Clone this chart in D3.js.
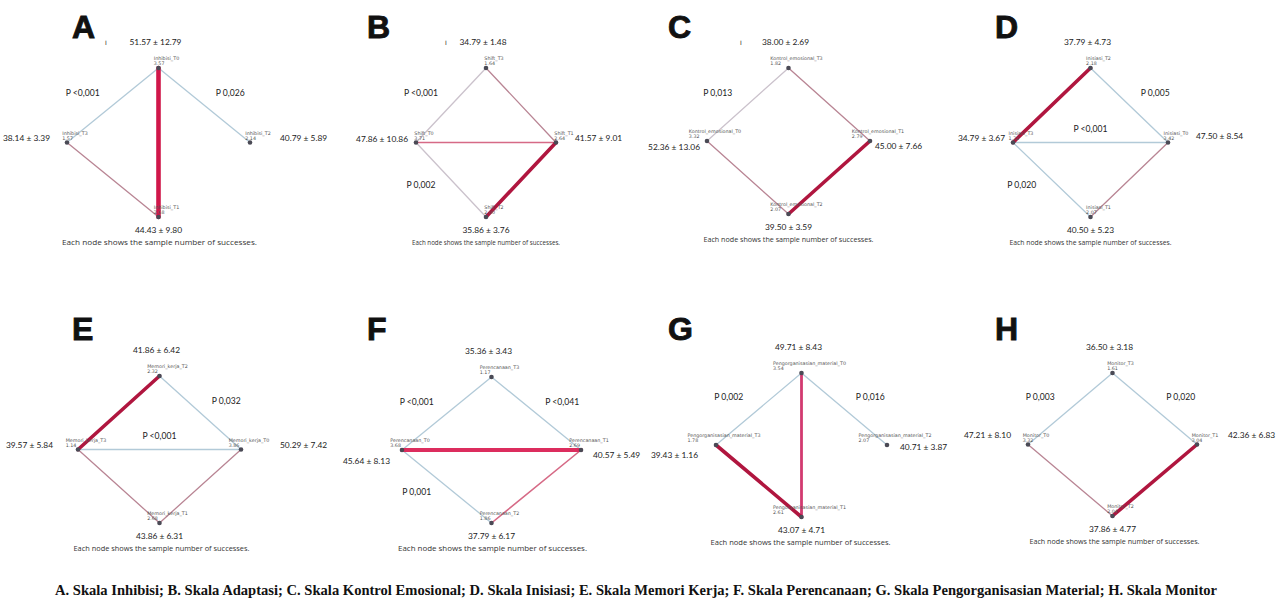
<!DOCTYPE html>
<html>
<head>
<meta charset="utf-8">
<script src="https://cdn.jsdelivr.net/npm/d3@7"></script>
<style>
body { margin: 0; background: #fff; }
</style>
</head>
<body>
<script>
var w = 1282;
var h = 600;

// panel ids and scale names
var panelIds = ["A", "B", "C", "D", "E", "F", "G", "H"];
var scaleNames = ["Inhibisi", "Shift", "Kontrol_emosional", "Inisiasi",
  "Memori_kerja", "Perencanaan", "Pengorganisasian_material", "Monitor"];
var captionNames = ["Skala Inhibisi", "Skala Adaptasi", "Skala Kontrol Emosional", "Skala Inisiasi",
  "Skala Memori Kerja", "Skala Perencanaan", "Skala Pengorganisasian Material", "Skala Monitor"];

// node time points, in order [top, left, right, bottom]
var nodeTimes = [
  ["T0", "T3", "T2", "T1"],
  ["T3", "T0", "T1", "T2"],
  ["T3", "T0", "T1", "T2"],
  ["T2", "T3", "T0", "T1"],
  ["T2", "T3", "T0", "T1"],
  ["T3", "T0", "T1", "T2"],
  ["T0", "T3", "T2", "T1"],
  ["T3", "T0", "T1", "T2"]
];
// sample number of successes shown under each node name
var nodeScores = [
  [3.57, 1.57, 2.14, 2.68],
  [1.64, 3.71, 2.64, 2.00],
  [1.82, 3.32, 2.79, 2.07],
  [2.18, 1.32, 3.42, 2.07],
  [2.32, 1.14, 3.86, 2.68],
  [1.17, 3.68, 2.69, 1.86],
  [3.54, 1.78, 2.07, 2.61],
  [1.61, 3.32, 3.04, 2.04]
];
// mean and sd per node
var nodeMeans = [
  [51.57, 38.14, 40.79, 44.43],
  [34.79, 47.86, 41.57, 35.86],
  [38.00, 52.36, 45.00, 39.50],
  [37.79, 34.79, 47.50, 40.50],
  [41.86, 39.57, 50.29, 43.86],
  [35.36, 45.64, 40.57, 37.79],
  [49.71, 39.43, 40.71, 43.07],
  [36.50, 47.21, 42.36, 37.86]
];
var nodeSds = [
  [12.79, 3.39, 5.89, 9.80],
  [1.48, 10.86, 9.01, 3.76],
  [2.69, 13.06, 7.66, 3.59],
  [4.73, 3.67, 8.54, 5.23],
  [6.42, 5.84, 7.42, 6.31],
  [3.43, 8.13, 5.49, 6.17],
  [8.43, 1.16, 3.87, 4.71],
  [3.18, 8.10, 6.83, 4.77]
];

// comparisons: [from, to, kind]
var edges = [
  [["T0","T3","blue"], ["T0","T2","blue"], ["T3","T1","pink"], ["T0","T1","thick"]],
  [["T3","T0","grey"], ["T3","T1","pink"], ["T0","T2","grey"], ["T0","T1","red"], ["T1","T2","dark"]],
  [["T3","T0","grey"], ["T3","T1","pink"], ["T0","T2","pink"], ["T1","T2","dark"]],
  [["T2","T0","blue"], ["T3","T0","blue"], ["T3","T1","blue"], ["T0","T1","pink"], ["T3","T2","dark"]],
  [["T2","T0","blue"], ["T3","T0","blue"], ["T3","T1","pink"], ["T0","T1","pink"], ["T3","T2","dark"]],
  [["T3","T0","blue"], ["T3","T1","blue"], ["T0","T2","blue"], ["T1","T2","red"], ["T0","T1","bright"]],
  [["T0","T3","blue"], ["T0","T2","blue"], ["T0","T1","rose"], ["T3","T1","dark"]],
  [["T3","T0","blue"], ["T3","T1","blue"], ["T0","T2","pink"], ["T1","T2","dark"]]
];

// p values written next to comparisons: [from, to, text]
var pLabels = [
  [["T0","T3","P <0,001"], ["T0","T2","P 0,026"]],
  [["T3","T0","P <0,001"], ["T0","T2","P 0,002"]],
  [["T3","T0","P 0,013"]],
  [["T2","T0","P 0,005"], ["T3","T0","P <0,001"], ["T3","T1","P 0,020"]],
  [["T2","T0","P 0,032"], ["T3","T0","P <0,001"]],
  [["T3","T0","P <0,001"], ["T3","T1","P <0,041"], ["T0","T2","P 0,001"]],
  [["T0","T3","P 0,002"], ["T0","T2","P 0,016"]],
  [["T3","T0","P 0,003"], ["T3","T1","P 0,020"]]
];

// layout of each diamond
var boxes = [
  {xl: 67, xr: 250, yt: 68, yb: 217},
  {xl: 416, xr: 556, yt: 68, yb: 217},
  {xl: 707, xr: 870, yt: 68, yb: 214},
  {xl: 1013, xr: 1168, yt: 68, yb: 217},
  {xl: 78, xr: 241, yt: 376, yb: 523},
  {xl: 402, xr: 581, yt: 377, yb: 523},
  {xl: 716, xr: 887, yt: 373, yb: 517},
  {xl: 1028, xr: 1197, yt: 373, yb: 516}
];
var letterX = [72, 367, 668, 995];
var letterY = [38, 340];
// side label offsets: [left dx, left dy, right dx, right dy]
var sideOff = [
  [-17, -2, 30, -2],
  [-8, -1, 19, -2],
  [-7, 9, 5, 8],
  [-8, -2, 28, -4],
  [-25, -2, 39, -2],
  [-12, 14, 12, 8],
  [-18, 13, 13, 5],
  [-17, -7, 31, -7]
];
// footnote width and x shift per panel
var footW = [195, 148, 170, 162, 176, 189, 180, 170];
var footDx = [1, 0, 0, 0, 2, 1, -1, 2];
var cursorMarks = [[105, 45], [445, 45], [740, 45]];

var edgeColor = d3.scaleOrdinal()
  .domain(["blue", "grey", "pink", "red", "dark", "thick", "bright", "rose"])
  .range(["#b2cad8", "#cbc2cc", "#b98594", "#d66a86", "#b0163f", "#d0174a", "#dc2d5e", "#d23a70"]);
var edgeWidth = d3.scaleOrdinal()
  .domain(["blue", "grey", "pink", "red", "dark", "thick", "bright", "rose"])
  .range([1.3, 1.3, 1.3, 1.6, 3.6, 4.6, 4, 2.8]);
var edgeOrder = d3.scaleOrdinal()
  .domain(["blue", "grey", "pink", "red", "dark", "thick", "bright", "rose"])
  .range([0, 0, 1, 1, 2, 2, 2, 2]);

var fmt = d3.format(".2f");
var valueFont = "Lato, 'Liberation Sans', sans-serif";

//Create SVG element
var svg = d3.select("body")
            .append("svg")
            .attr("width", w)
            .attr("height", h)
            .style("background", "#fff");

var slots = [["center", "top"], ["left", "middle"], ["right", "middle"], ["center", "bottom"]];

panelIds.forEach(function(id, i) {
  var b = boxes[i];
  var x = d3.scalePoint().domain(["left", "center", "right"]).range([b.xl, b.xr]);
  var y = d3.scalePoint().domain(["top", "middle", "bottom"]).range([b.yt, b.yb]);

  var nodes = nodeTimes[i].map(function(t, k) {
    return {
      t: t,
      k: k,
      name: scaleNames[i] + "_" + t,
      score: nodeScores[i][k],
      mean: nodeMeans[i][k],
      sd: nodeSds[i][k],
      x: x(slots[k][0]),
      y: y(slots[k][1])
    };
  });
  var byT = {};
  nodes.forEach(function(n) { byT[n.t] = n; });

  var g = svg.append("g");

  // panel letter
  g.append("text")
    .attr("x", letterX[i % 4])
    .attr("y", letterY[Math.floor(i / 4)])
    .style("font-family", "'Liberation Sans', Arial, sans-serif")
    .style("font-weight", "bold")
    .style("font-size", "32px")
    .style("fill", "#111")
    .style("stroke", "#111")
    .style("stroke-width", 0.9)
    .text(id);

  // edges, thick ones on top
  var es = edges[i].slice().sort(function(a, c) { return edgeOrder(a[2]) - edgeOrder(c[2]); });
  g.selectAll("line.edge")
    .data(es)
    .enter()
    .append("line")
    .attr("class", "edge")
    .attr("x1", function(d) { return byT[d[0]].x; })
    .attr("y1", function(d) { return byT[d[0]].y; })
    .attr("x2", function(d) { return byT[d[1]].x; })
    .attr("y2", function(d) { return byT[d[1]].y; })
    .style("stroke", function(d) { return edgeColor(d[2]); })
    .style("stroke-width", function(d) { return edgeWidth(d[2]); })
    .style("stroke-linecap", "round");

  // nodes
  g.selectAll("circle")
    .data(nodes)
    .enter()
    .append("circle")
    .attr("cx", function(d) { return d.x; })
    .attr("cy", function(d) { return d.y; })
    .attr("r", 2.3)
    .style("fill", "#4a4a55");

  // tiny node names
  nodes.forEach(function(n) {
    var t1 = g.append("text")
      .attr("x", n.x + 8)
      .attr("y", n.y - 8)
      .attr("text-anchor", "middle")
      .style("font-family", "'DejaVu Sans', sans-serif")
      .style("font-size", "4.8px")
      .style("fill", "#555")
      .text(n.name);
    var len = t1.node().getComputedTextLength();
    g.append("text")
      .attr("x", n.x + 8 - len / 2)
      .attr("y", n.y - 3)
      .style("font-family", "'DejaVu Sans', sans-serif")
      .style("font-size", "4.8px")
      .style("fill", "#555")
      .text(fmt(n.score));
  });

  // mean +- sd labels
  nodes.forEach(function(n) {
    var t = g.append("text")
      .style("font-family", valueFont)
      .style("font-size", "8.4px")
      .style("fill", "#222")
      .text(fmt(n.mean) + " \u00b1 " + fmt(n.sd));
    if (n.k === 0) {
      t.attr("x", n.x - 3).attr("y", n.y - 23).attr("text-anchor", "middle");
    } else if (n.k === 3) {
      t.attr("x", n.x).attr("y", n.y + 16).attr("text-anchor", "middle");
    } else if (n.k === 1) {
      t.attr("x", n.x + sideOff[i][0]).attr("y", n.y + sideOff[i][1]).attr("text-anchor", "end");
    } else {
      t.attr("x", n.x + sideOff[i][2]).attr("y", n.y + sideOff[i][3]).attr("text-anchor", "start");
    }
  });

  // p values
  var cx = x("center"), cy = y("middle");
  g.selectAll("text.p")
    .data(pLabels[i])
    .enter()
    .append("text")
    .attr("class", "p")
    .attr("x", function(d) {
      var mx = (byT[d[0]].x + byT[d[1]].x) / 2;
      if (Math.abs(mx - cx) < 1) return mx;
      return mx + (mx < cx ? -30 : 26);
    })
    .attr("y", function(d) {
      var my = (byT[d[0]].y + byT[d[1]].y) / 2;
      if (Math.abs(my - cy) < 1) return my - 11;
      return my + (my < cy ? -9 : 8);
    })
    .attr("text-anchor", "middle")
    .style("font-family", valueFont)
    .style("font-size", "8.6px")
    .style("fill", "#222")
    .text(function(d) { return d[2]; });

  // footnote
  var bottom = byT[nodeTimes[i][3]];
  g.append("text")
    .attr("x", bottom.x + footDx[i] - footW[i] / 2)
    .attr("y", bottom.y + 28)
    .attr("textLength", footW[i])
    .attr("lengthAdjust", "spacingAndGlyphs")
    .style("font-family", "'Open Sans', sans-serif")
    .style("font-size", "7px")
    .style("fill", "#333")
    .text("Each node shows the sample number of successes.");
});

// small cursor marks
svg.selectAll("text.mark")
  .data(cursorMarks)
  .enter()
  .append("text")
  .attr("class", "mark")
  .attr("x", function(d) { return d[0]; })
  .attr("y", function(d) { return d[1]; })
  .style("font-family", "'DejaVu Sans', sans-serif")
  .style("font-size", "6px")
  .style("fill", "#222")
  .text("I");

// caption
var caption = panelIds.map(function(id, i) { return id + ". " + captionNames[i]; }).join("; ");
svg.append("text")
  .attr("x", 55)
  .attr("y", 595)
  .attr("textLength", 1162)
  .attr("lengthAdjust", "spacingAndGlyphs")
  .style("font-family", "'Liberation Serif', 'Times New Roman', serif")
  .style("font-weight", "bold")
  .style("font-size", "15px")
  .style("fill", "#111")
  .text(caption);
</script>
</body>
</html>
